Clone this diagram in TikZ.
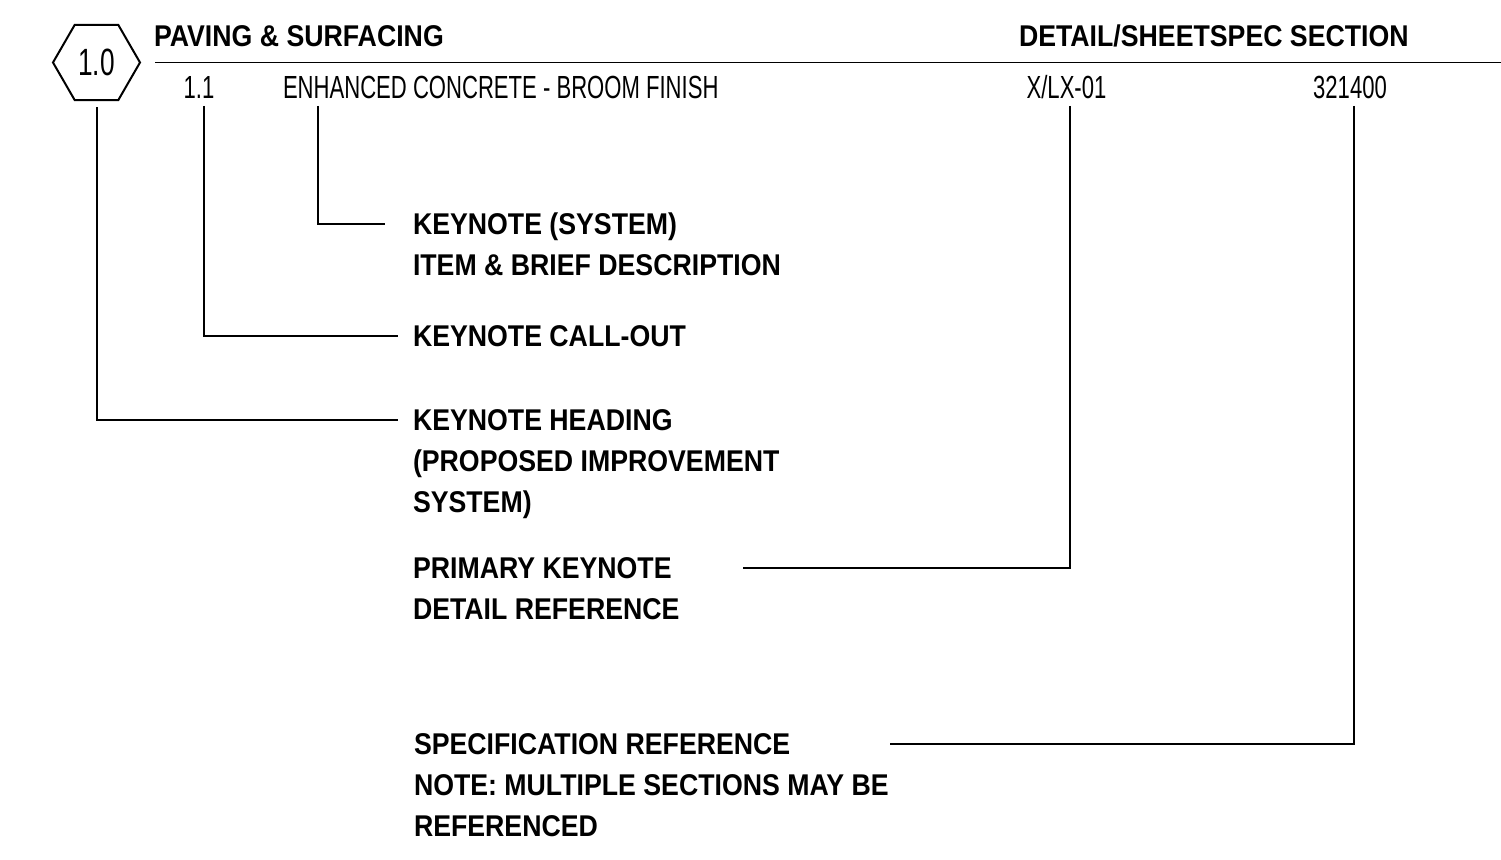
\documentclass[tikz,border=0pt]{standalone}
\usepackage{fontspec}
\setmainfont{Liberation Sans}
\newfontfamily\narrowfont[FakeStretch=0.69]{Liberation Sans}
\newfontfamily\labelfont[FakeStretch=0.89]{Liberation Sans}
\usepackage{tikz}
\usetikzlibrary{shapes.geometric}

\begin{document}
\begin{tikzpicture}[x=0.5pt, y=-0.5pt, line width=1pt,
  item text/.style={inner sep=0pt, font=\narrowfont\fontsize{16pt}{20pt}\selectfont},
  head text/.style={inner sep=0pt, font=\labelfont\bfseries\fontsize{15pt}{20pt}\selectfont},
  note text/.style={inner sep=0pt, align=left, anchor=base west,
    font=\labelfont\bfseries\fontsize{15pt}{20.5pt}\selectfont},
  leader/.style={line width=1pt}]
  \useasboundingbox (0,0) rectangle (1501,860);

  % keynote header
  \node[regular polygon, regular polygon sides=6, draw, minimum size=43.5pt, inner sep=0pt,
    font=\narrowfont\fontsize{19pt}{22pt}\selectfont] (hex) at (96.5,62.5) {1.0};
  \node[head text, anchor=base west] (system) at (153,47) {PAVING \& SURFACING};
  \node[head text, anchor=base west] (column) at (1018,47) {DETAIL/SHEETSPEC SECTION};
  \draw[line width=0.8pt] (155,62.5) -- (1501,62.5);

  % keynote row
  \node[item text, anchor=base] (num) at (199,99) {1.1};
  \node[item text, anchor=base west] (desc) at (282,99) {ENHANCED CONCRETE - BROOM FINISH};
  \node[item text, anchor=base] (sheet) at (1066.5,99) {X/LX-01};
  \node[item text, anchor=base] (spec) at (1350,99) {321400};

  % explanations (placed by the baseline of their last line)
  \node[note text] (syslbl) at (412,276) {KEYNOTE (SYSTEM)\\ITEM \& BRIEF DESCRIPTION};
  \node[note text] (calllbl) at (412,347) {KEYNOTE CALL-OUT};
  \node[note text] (headlbl) at (412,513) {KEYNOTE HEADING\\(PROPOSED IMPROVEMENT\\SYSTEM)};
  \node[note text] (detlbl) at (412,620) {PRIMARY KEYNOTE\\DETAIL REFERENCE};
  \node[note text] (speclbl) at (413,837) {SPECIFICATION REFERENCE\\NOTE: MULTIPLE SECTIONS MAY BE\\REFERENCED};

  % leaders
  \draw[leader] ([shift={(0,6)}]hex.south) |- ([shift={(-14,-93)}]headlbl.base west);
  \draw[leader] ([shift={(5,7)}]num.base) |- ([shift={(-14,-11)}]calllbl.base west);
  \draw[leader] ([shift={(36,7)}]desc.base west) |- ([shift={(-27,-52)}]syslbl.base west);
  \draw[leader] ([shift={(3.5,7)}]sheet.base) |- ([shift={(331,-52)}]detlbl.base west);
  \draw[leader] ([shift={(4,7)}]spec.base) |- ([shift={(477,-93)}]speclbl.base west);
\end{tikzpicture}
\end{document}
